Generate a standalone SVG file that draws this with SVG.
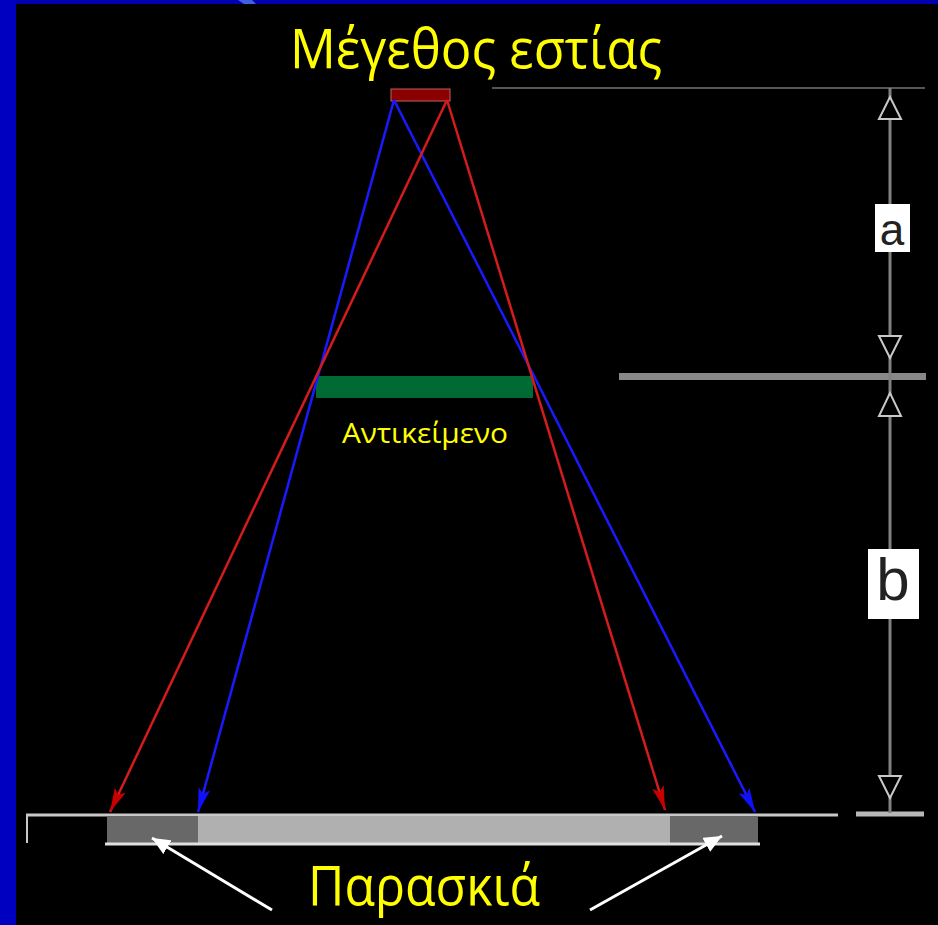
<svg xmlns="http://www.w3.org/2000/svg" width="938" height="925" viewBox="0 0 938 925">
<style>
.lbl{fill:#ffff00;font-family:"Open Sans","DejaVu Sans",sans-serif}
.ray-r{stroke:#d41c1c;stroke-width:2.5;fill:none}
.ray-b{stroke:#1a1aff;stroke-width:2.5;fill:none}
.scale{stroke:#808080;stroke-width:3;fill:none}
.hollow{fill:#000;stroke:#c8c8c8;stroke-width:2}
.box{fill:#fff}
.dim{fill:#222;font-family:"Liberation Sans","DejaVu Sans",sans-serif}
</style>
<defs>
<marker id="ahR" markerWidth="26" markerHeight="14" refX="24" refY="7" orient="auto" markerUnits="userSpaceOnUse">
<path d="M0,1 L24,7 L0,13 L5,7 Z" fill="#c80000"/>
</marker>
<marker id="ahB" markerWidth="26" markerHeight="14" refX="24" refY="7" orient="auto" markerUnits="userSpaceOnUse">
<path d="M0,1 L24,7 L0,13 L5,7 Z" fill="#1010ff"/>
</marker>
<marker id="ahW" markerWidth="20" markerHeight="16" refX="18" refY="8" orient="auto" markerUnits="userSpaceOnUse">
<path d="M0,0 L18,8 L0,16 Z" fill="#fff"/>
</marker>
</defs>
<rect x="0" y="0" width="938" height="925" fill="#000"/>
<rect x="0" y="0" width="938" height="4" fill="#0000b0"/>
<rect x="0" y="0" width="16" height="925" fill="#0000c0"/>
<path d="M238,0 L252,0 L256,4 L244,4 Z" fill="#4060e0"/>

<g id="title"><text class="lbl" x="476" y="68" font-size="54" text-anchor="middle" textLength="372" lengthAdjust="spacingAndGlyphs">Μέγεθος εστίας</text></g>

<g id="focal-spot"><rect x="391" y="89" width="59" height="12" fill="#8b0000" stroke="#c06060" stroke-width="1"/></g>

<g id="object">
<rect x="316" y="376" width="217" height="22" fill="#006a35"/>
<text class="lbl" x="425" y="443" font-size="28" text-anchor="middle" textLength="166" lengthAdjust="spacingAndGlyphs">Αντικείμενο</text>
</g>

<g id="detector">
<line x1="26" y1="815" x2="838" y2="815" stroke="#c8c8c8" stroke-width="3"/>
<line x1="27" y1="815" x2="27" y2="843" stroke="#c8c8c8" stroke-width="2"/>
<rect x="107" y="816" width="651" height="27" fill="#b0b0b0"/>
<rect x="107" y="816" width="91" height="27" fill="#686868"/>
<rect x="670" y="816" width="88" height="27" fill="#686868"/>
<line x1="105" y1="844" x2="760" y2="844" stroke="#e0e0e0" stroke-width="3"/>
</g>

<g id="penumbra-label">
<text class="lbl" x="424" y="905" font-size="54" text-anchor="middle" textLength="232" lengthAdjust="spacingAndGlyphs">Παρασκιά</text>
</g>

<g id="scale">
<line x1="492" y1="88" x2="925" y2="88" stroke="#aaa" stroke-width="1"/>
<line x1="619" y1="376.5" x2="926" y2="376.5" stroke="#888" stroke-width="7"/>
<line x1="856" y1="814" x2="924" y2="814" stroke="#b8b8b8" stroke-width="5"/>
<line class="scale" x1="890" y1="88" x2="890" y2="813"/>
<polygon class="hollow" points="890,97 879,119 901,119"/>
<polygon class="hollow" points="879,336 901,336 890,358"/>
<polygon class="hollow" points="890,393 879,416 901,416"/>
<polygon class="hollow" points="879,776 901,776 890,798"/>
<rect class="box" x="875" y="204" width="35" height="48"/>
<text class="dim" x="892" y="245" font-size="44" text-anchor="middle">a</text>
<rect class="box" x="868" y="549" width="51" height="70"/>
<text class="dim" x="893" y="600" font-size="60" text-anchor="middle">b</text>
</g>

<g id="connectors">
<line class="ray-b" x1="394" y1="100" x2="198" y2="812" marker-end="url(#ahB)"/>
<line class="ray-b" x1="394" y1="100" x2="755" y2="812" marker-end="url(#ahB)"/>
<line class="ray-r" x1="447" y1="100" x2="110" y2="812" marker-end="url(#ahR)"/>
<line class="ray-r" x1="447" y1="100" x2="665" y2="810" marker-end="url(#ahR)"/>
<line x1="272" y1="910" x2="152" y2="838" stroke="#fff" stroke-width="3" marker-end="url(#ahW)"/>
<line x1="590" y1="910" x2="722" y2="836" stroke="#fff" stroke-width="3" marker-end="url(#ahW)"/>
</g>
</svg>
